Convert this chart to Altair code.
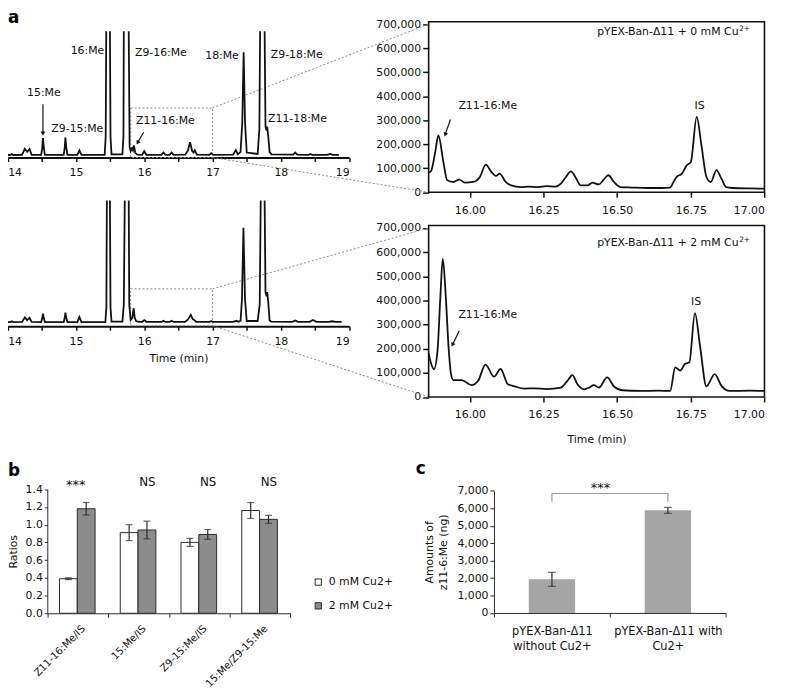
import altair as alt
import pandas as pd

W, H = 780, 682
FONT = "DejaVu Sans"
INK = "#111111"
AX = "#2b2b2b"
DOT = "#8a8a8a"
TOPK = 3000  # off-scale part of the tallest peaks (thousands) - drawn clipped at the panel top

# ---------------- panel a: overview chromatograms (min, intensity in thousands) ----------------
ov0_time = [14.00, 14.04, 14.06, 14.08, 14.21, 14.25, 14.285, 14.32, 14.35,
            14.49, 14.505, 14.516, 14.53, 14.545,
            14.82, 14.835, 14.845, 14.858, 14.875,
            15.02, 15.05, 15.08,
            15.42, 15.435, 15.443, 15.47, 15.497, 15.505, 15.52,
            15.68, 15.695, 15.70, 15.735, 15.772, 15.785, 15.80,
            15.82, 15.835, 15.848, 15.87, 15.90,
            15.97, 16.00, 16.03, 16.25, 16.28, 16.31, 16.37, 16.40, 16.43,
            16.60, 16.64, 16.67, 16.70, 16.72, 16.74, 16.77,
            16.95, 16.98, 17.01, 17.30, 17.34, 17.37,
            17.41, 17.435, 17.455, 17.475, 17.50,
            17.66, 17.685, 17.696, 17.73, 17.762, 17.775, 17.79, 17.80, 17.815, 17.835, 17.86,
            18.18, 18.21, 18.24, 18.40, 18.43, 18.46, 18.68, 18.72, 18.76, 18.85]
ov0_int_k = [35, 35, 48, 35, 38, 123, 80, 120, 38,
             36, 130, 273, 130, 36,
             36, 140, 283, 140, 36,
             36, 100, 36,
             36, 300, TOPK, None, TOPK, 300, 45,
             45, 300, TOPK, None, TOPK, 150, 90,
             130, 100, 170, 60, 40,
             38, 90, 38, 36, 70, 36, 36, 70, 36,
             40, 100, 217, 95, 70, 100, 40,
             36, 60, 36, 40, 105, 45,
             80, 500, 1487, 500, 70,
             50, 400, TOPK, None, TOPK, 437, 380, 437, 300, 80, 45,
             40, 70, 40, 36, 50, 36, 36, 50, 36, 36]

ov2_time = [14.00, 14.04, 14.06, 14.08, 14.21, 14.25, 14.285, 14.32, 14.35,
            14.49, 14.505, 14.516, 14.53, 14.545,
            14.82, 14.835, 14.845, 14.858, 14.875,
            15.02, 15.05, 15.08,
            15.43, 15.445, 15.452, 15.475, 15.497, 15.505, 15.52,
            15.68, 15.70, 15.714, 15.74, 15.772, 15.78, 15.80,
            15.825, 15.845, 15.86, 15.88, 15.92,
            15.97, 16.00, 16.03, 16.25, 16.28, 16.31, 16.37, 16.40, 16.43,
            16.60, 16.64, 16.68, 16.71, 16.73, 16.76,
            16.95, 16.98, 17.01, 17.30, 17.35, 17.38,
            17.41, 17.43, 17.452, 17.475, 17.50,
            17.66, 17.69, 17.705, 17.73, 17.762, 17.775, 17.79, 17.80, 17.815, 17.835, 17.86,
            18.17, 18.21, 18.25, 18.42, 18.47, 18.52, 18.70, 18.75, 18.80, 18.89]
ov2_int_k = [70, 70, 85, 70, 72, 156, 105, 150, 72,
             70, 140, 231, 140, 70,
             70, 150, 250, 150, 70,
             70, 169, 70,
             70, 350, TOPK, None, TOPK, 350, 80,
             80, 400, TOPK, None, TOPK, 400, 110,
             150, 332, 150, 90, 75,
             75, 107, 75, 72, 95, 72, 72, 95, 72,
             75, 120, 206, 125, 110, 75,
             72, 85, 72, 75, 94, 75,
             95, 500, 1858, 500, 90,
             90, 400, TOPK, None, TOPK, 638, 560, 638, 450, 100, 80,
             75, 100, 75, 75, 110, 75, 75, 85, 75, 75]

# zoomed region (15.86-17.00 min)
zm0_time = [15.86, 15.868, 15.882, 15.893, 15.91, 15.923, 15.944, 15.964, 15.983, 16.011,
            16.034, 16.054, 16.073, 16.088, 16.101, 16.12, 16.14, 16.174, 16.20, 16.23,
            16.26, 16.29, 16.309, 16.326, 16.343, 16.36, 16.376, 16.40, 16.416, 16.438,
            16.455, 16.47, 16.489, 16.511, 16.55, 16.60, 16.65, 16.68, 16.691, 16.702,
            16.72, 16.736, 16.75, 16.77, 16.786, 16.803, 16.818, 16.837, 16.854, 16.87,
            16.893, 16.95, 17.0]
zm0_int_k = [82, 88, 165, 237, 126, 50, 43, 53, 40, 43,
             64, 115, 85, 68, 78, 46, 29, 22, 24, 22,
             26, 24, 36, 64, 87, 60, 29, 29, 40, 33,
             54, 71, 43, 22, 20, 18, 18, 20, 43, 64,
             78, 112, 126, 314, 196, 64, 43, 92, 57, 22,
             18, 16, 15]
zm2_time = [15.86, 15.868, 15.878, 15.89, 15.90, 15.908, 15.918, 15.928, 15.936, 15.944,
            15.972, 16.006, 16.028, 16.053, 16.082, 16.104, 16.129, 16.152, 16.185, 16.22,
            16.26, 16.309, 16.331, 16.348, 16.365, 16.388, 16.405, 16.421, 16.438, 16.466,
            16.489, 16.517, 16.58, 16.64, 16.68, 16.697, 16.714, 16.73, 16.745, 16.764,
            16.781, 16.803, 16.831, 16.854, 16.882, 16.95, 17.0]
zm2_int_k = [181, 140, 115, 190, 420, 572, 420, 200, 95, 70,
             70, 49, 67, 134, 84, 116, 53, 44, 35, 36,
             33, 39, 67, 91, 53, 32, 39, 49, 39, 81,
             44, 28, 25, 26, 25, 123, 109, 137, 144, 347,
             214, 44, 95, 46, 25, 26, 25]

box_time = [15.8, 17.0]
box_int = [0, 700000]

ov_label_text = ["16:Me", "Z9-16:Me", "18:Me", "Z9-18:Me", "15:Me", "Z9-15:Me", "Z11-16:Me", "Z11-18:Me"]
ov_label_time = [15.168, 16.243, 17.138, 18.232, 14.529, 15.019, 16.309, 18.243]
ov_label_int_k = [1500, 1477, 1431, 1453, 907, 403, 521, 543]
ov_arrow_from = [(14.516, 753), (15.99, 357)]
ov_arrow_to = [(14.516, 347), (15.907, 217)]
ov_arrow_angle = [180, 210]

sample_names = ["pYEX-Ban-\u039411 + 0 mM Cu", "pYEX-Ban-\u039411 + 2 mM Cu"]
sample_sup = "2+"

# ---------------- panel b ----------------
b_cats = ["Z11-16:Me/IS", "15:Me/IS", "Z9-15:Me/IS", "15:Me/Z9-15:Me"]
b_groups = ["0 mM Cu2+", "2 mM Cu2+"]
b_mean_0 = [0.39, 0.91, 0.80, 1.16]
b_err_0 = [0.01, 0.09, 0.045, 0.09]
b_mean_2 = [1.18, 0.94, 0.89, 1.06]
b_err_2 = [0.07, 0.10, 0.055, 0.045]
b_sig = ["***", "NS", "NS", "NS"]

# ---------------- panel c ----------------
c_cats = ["pYEX-Ban-\u039411\nwithout Cu2+", "pYEX-Ban-\u039411 with\nCu2+"]
c_mean = [1930, 5880]
c_err = [400, 170]
c_bracket_low, c_bracket_high = 6376, 6846
c_star_y = 7317

# ---------------- layout (pixel ranges of each panel) ----------------
OV_DOM, OV_RNG = [14, 19], [-0.3, 344.7]
OV_TICKS = [14, 14.5, 15, 15.5, 16, 16.5, 17, 17.5, 18, 18.5, 19]
TL_DOM, TL_RNG = [0, 1785000], [147.5, 20]
BL_DOM, BL_RNG = [0, 2374000], [317.5, 191]
ZM_DOM, ZM_RNG = [15.86, 17.0], [425, 764.3]
ZM_XTICKS = [16.0, 16.25, 16.5, 16.75, 17.0]
ZM_YDOM = [0, 710000]
ZM_YTICKS = [0, 100000, 200000, 300000, 400000, 500000, 600000, 700000]
TR_RNG = [182.7, 10.3]
BR_RNG = [389.5, 216.3]


def lin(dom, rng):
    (d0, d1), (r0, r1) = dom, rng
    return lambda v: r0 + (v - d0) * (r1 - r0) / (d1 - d0)


def S(dom, rng, **kw):
    return alt.Scale(domain=dom, range=rng, nice=False, zero=False, **kw)


def txt(df, xs, ys, align, size, baseline="middle", dx=0, dy=0):
    return alt.Chart(df).mark_text(align=align, baseline=baseline, fontSize=size, dx=dx, dy=dy,
                                   color=INK).encode(
        x=alt.X("t:Q", scale=xs, axis=None), y=alt.Y("v:Q", scale=ys, axis=None), text="s:N")


def arrows(df, xs, ys):
    shaft = alt.Chart(df).mark_rule(color=INK, strokeWidth=1.2).encode(
        x=alt.X("t0:Q", scale=xs, axis=None), x2="t1",
        y=alt.Y("v0:Q", scale=ys, axis=None), y2="v1")
    head = alt.Chart(df).mark_point(shape="triangle", filled=True, size=22, color=INK, opacity=1).encode(
        x=alt.X("t1:Q", scale=xs, axis=None), y=alt.Y("v1:Q", scale=ys, axis=None),
        angle=alt.Angle("ang:Q", scale=None))
    return [shaft, head]


def ov_xs():
    return S(OV_DOM, OV_RNG)


def ov_panel(times, ints_k, ydom, yrng, axis_y, title, title_pad):
    trace = pd.DataFrame({"t": times, "v": [None if v is None else v * 1000 for v in ints_k]})
    box = pd.DataFrame({"t0": [box_time[0]], "t1": [box_time[1]], "v0": [box_int[0]], "v1": [box_int[1]]})
    axis = alt.Axis(orient="bottom", offset=axis_y - H, values=OV_TICKS, format=".0f",
                    labelExpr="datum.value % 1 === 0 ? datum.label : ''",
                    labelFlush=True, tickSize=4, tickWidth=1.5, tickColor=INK,
                    domainColor=INK, domainWidth=2, labelFontSize=11, labelPadding=5,
                    title=title, titleFontSize=11, titlePadding=title_pad, titleFontWeight="normal")
    rect = alt.Chart(box).mark_rect(fillOpacity=0, stroke=DOT, strokeWidth=1, strokeDash=[2, 2]).encode(
        x=alt.X("t0:Q", scale=ov_xs(), axis=None), x2="t1",
        y=alt.Y("v0:Q", scale=S(ydom, yrng, clamp=True), axis=None), y2="v1")
    line = alt.Chart(trace).mark_line(color=INK, strokeWidth=1.8, invalid="break-paths-show-domains").encode(
        x=alt.X("t:Q", scale=ov_xs(), axis=axis), y=alt.Y("v:Q", scale=S(ydom, yrng, clamp=True), axis=None))
    return [rect, line]


tl_lab = pd.DataFrame({"t": ov_label_time, "v": [v * 1000 for v in ov_label_int_k], "s": ov_label_text})
tl_arr = pd.DataFrame({"t0": [a[0] for a in ov_arrow_from], "v0": [a[1] * 1000 for a in ov_arrow_from],
                       "t1": [a[0] for a in ov_arrow_to], "v1": [a[1] * 1000 for a in ov_arrow_to],
                       "ang": ov_arrow_angle})
tl_layers = (ov_panel(ov0_time, ov0_int_k, TL_DOM, TL_RNG, 147.5, None, 4)
             + [txt(tl_lab, ov_xs(), S(TL_DOM, TL_RNG, clamp=True), "center", 11)]
             + arrows(tl_arr, ov_xs(), S(TL_DOM, TL_RNG, clamp=True)))
bl_layers = ov_panel(ov2_time, ov2_int_k, BL_DOM, BL_RNG, 318, "Time (min)", 7)


def zm_xs():
    return S(ZM_DOM, ZM_RNG)


def zm_panel(times, ints_k, yrng, name, sample_v_k, sup_v_k, is_pos, z11_pos, arrow, title):
    ys = S(ZM_YDOM, yrng)
    trace = pd.DataFrame({"t": times, "v": [v * 1000 for v in ints_k]})
    frame = pd.DataFrame({"t0": [ZM_DOM[0]], "t1": [ZM_DOM[1]], "v0": [ZM_YDOM[0]], "v1": [ZM_YDOM[1]]})
    xaxis = alt.Axis(orient="bottom", offset=yrng[0] - H, values=ZM_XTICKS, format=".2f", domain=False,
                     tickSize=5, tickWidth=1.5, tickColor=INK, labelPadding=7, labelFontSize=11,
                     title=title, titleFontSize=11, titlePadding=14, titleFontWeight="normal")
    yaxis = alt.Axis(orient="left", offset=-ZM_RNG[0], values=ZM_YTICKS, format=",.0f", domain=False,
                     tickSize=6, tickWidth=1.5, tickColor=INK, labelPadding=2, labelFontSize=11, title=None)
    fr = alt.Chart(frame).mark_rect(fillOpacity=0, stroke=INK, strokeWidth=1.6).encode(
        x=alt.X("t0:Q", scale=zm_xs(), axis=None), x2="t1",
        y=alt.Y("v0:Q", scale=ys, axis=None), y2="v1")
    line = alt.Chart(trace).mark_line(color=INK, strokeWidth=1.8, interpolate="monotone").encode(
        x=alt.X("t:Q", scale=zm_xs(), axis=xaxis), y=alt.Y("v:Q", scale=ys, axis=yaxis))
    name_df = pd.DataFrame({"t": [16.912], "v": [sample_v_k * 1000], "s": [name]})
    sup_df = pd.DataFrame({"t": [16.914], "v": [sup_v_k * 1000], "s": [sample_sup]})
    is_df = pd.DataFrame({"t": [is_pos[0]], "v": [is_pos[1] * 1000], "s": ["IS"]})
    z_df = pd.DataFrame({"t": [z11_pos[0]], "v": [z11_pos[1] * 1000], "s": ["Z11-16:Me"]})
    arr = pd.DataFrame({"t0": [arrow[0]], "v0": [arrow[1] * 1000], "t1": [arrow[2]],
                        "v1": [arrow[3] * 1000], "ang": [arrow[4]]})
    return [fr, line,
            txt(name_df, zm_xs(), ys, "right", 11, baseline="alphabetic"),
            txt(sup_df, zm_xs(), ys, "left", 7.5, baseline="alphabetic"),
            txt(is_df, zm_xs(), ys, "center", 11),
            txt(z_df, zm_xs(), ys, "left", 11)] + arrows(arr, zm_xs(), ys)


tr_layers = zm_panel(zm0_time, zm0_int_k, TR_RNG, sample_names[0], 654.6, 671, (16.78, 360), (15.961, 360),
                     (15.934, 303, 15.917, 243, 199), None)
br_layers = zm_panel(zm2_time, zm2_int_k, BR_RNG, sample_names[1], 625, 642, (16.768, 393), (15.961, 338),
                     (15.964, 274, 15.942, 219, 207), "Time (min)")

# dotted zoom connectors, end points taken through the panels' own scales
ov_x, zm_x = lin(OV_DOM, OV_RNG), lin(ZM_DOM, ZM_RNG)
tl_y, bl_y = lin(TL_DOM, TL_RNG), lin(BL_DOM, BL_RNG)
tr_y, br_y = lin(ZM_YDOM, TR_RNG), lin(ZM_YDOM, BR_RNG)
conn_df = pd.DataFrame({
    "x0": [ov_x(box_time[1])] * 4,
    "y0": [tl_y(box_int[1]), tl_y(box_int[0]), bl_y(box_int[1]), bl_y(box_int[0])],
    "x1": [zm_x(ZM_DOM[0])] * 4,
    "y1": [tr_y(box_int[1]), tr_y(box_int[0]), br_y(box_int[1]), br_y(box_int[0])],
})
conn = alt.Chart(conn_df).mark_rule(color=DOT, strokeWidth=1, strokeDash=[2, 2]).encode(
    x=alt.X("x0:Q", scale=S([0, W], [0, W]), axis=None), x2="x1",
    y=alt.Y("y0:Q", scale=S([0, H], [0, H]), axis=None), y2="y1")

# ---------------- panel b chart ----------------
rows = []
for i, c in enumerate(b_cats):
    for g, m, e in ((b_groups[0], b_mean_0[i], b_err_0[i]), (b_groups[1], b_mean_2[i], b_err_2[i])):
        rows.append({"cat": c, "grp": g, "m": m, "lo": m - e, "hi": m + e})
b_df = pd.DataFrame(rows)
sig_df = pd.DataFrame({"cat": b_cats, "s": b_sig})


def bx():
    return alt.Scale(domain=b_cats, range=[39.7, 285.3], paddingInner=0, paddingOuter=0)


def bxo():
    return alt.Scale(domain=b_groups, range=[12.3, 48.3], paddingInner=0, paddingOuter=0)


def by():
    return S([0, 1.4], [608, 482.7])


b_xaxis = alt.Axis(orient="bottom", offset=608 - H, title=None, labelAngle=-45, labelAlign="right",
                   labelBaseline="top", labelOffset=2, labelPadding=6, tickBand="extent", tickSize=4,
                   domainColor=AX, tickColor=AX, labelFontSize=10.2)
b_yaxis = alt.Axis(orient="left", offset=-39.7, values=[0, 0.2, 0.4, 0.6, 0.8, 1.0, 1.2, 1.4], format=".1f",
                   title="Ratios", titlePadding=7, titleFontSize=11, titleFontWeight="normal",
                   tickSize=3, domainColor=AX, tickColor=AX, labelFontSize=11, labelPadding=2)
b_legend = alt.Legend(title=None, orient="none", legendX=308, legendY=571, symbolType="square",
                      symbolSize=40, symbolStrokeColor=AX, symbolStrokeWidth=1, labelFontSize=11,
                      labelColor=INK, rowPadding=12, labelOffset=5, padding=0)
bars_b = alt.Chart(b_df).mark_bar(stroke=AX, strokeWidth=1).encode(
    x=alt.X("cat:N", scale=bx(), axis=b_xaxis),
    xOffset=alt.XOffset("grp:N", scale=bxo()),
    y=alt.Y("m:Q", scale=by(), axis=b_yaxis),
    fill=alt.Fill("grp:N", scale=alt.Scale(domain=b_groups, range=["#ffffff", "#8c8c8c"]), legend=b_legend))
err_b = alt.Chart(b_df).mark_rule(color=AX, strokeWidth=1.2).encode(
    x=alt.X("cat:N", scale=bx(), axis=None), xOffset=alt.XOffset("grp:N", scale=bxo()),
    y=alt.Y("lo:Q", scale=by(), axis=None), y2="hi")
cap_lo = alt.Chart(b_df).mark_tick(color=AX, thickness=1.2, size=7).encode(
    x=alt.X("cat:N", scale=bx(), axis=None), xOffset=alt.XOffset("grp:N", scale=bxo()),
    y=alt.Y("lo:Q", scale=by(), axis=None))
cap_hi = alt.Chart(b_df).mark_tick(color=AX, thickness=1.2, size=7).encode(
    x=alt.X("cat:N", scale=bx(), axis=None), xOffset=alt.XOffset("grp:N", scale=bxo()),
    y=alt.Y("hi:Q", scale=by(), axis=None))
sig_star = alt.Chart(sig_df).transform_filter("datum.s === '***'").mark_text(
    fontSize=13, dx=-2, dy=3, color=INK).encode(
    x=alt.X("cat:N", scale=bx(), axis=None), y=alt.YDatum(1.48, scale=by(), axis=None), text="s:N")
sig_ns = alt.Chart(sig_df).transform_filter("datum.s !== '***'").mark_text(
    fontSize=12, dx=9, color=INK).encode(
    x=alt.X("cat:N", scale=bx(), axis=None), y=alt.YDatum(1.48, scale=by(), axis=None), text="s:N")
b_layers = [bars_b, err_b, cap_lo, cap_hi, sig_star, sig_ns]

# ---------------- panel c chart ----------------
c_df = pd.DataFrame({"cat": c_cats, "m": c_mean,
                     "lo": [m - e for m, e in zip(c_mean, c_err)], "hi": [m + e for m, e in zip(c_mean, c_err)]})
br_df = pd.DataFrame({"cat": [c_cats[0], c_cats[0], c_cats[1], c_cats[1]],
                      "v": [c_bracket_low, c_bracket_high, c_bracket_high, c_bracket_low], "o": [0, 1, 2, 3]})
star_df = pd.DataFrame({"cat": [c_cats[0]], "s": ["***"]})


def cx():
    return alt.Scale(domain=c_cats, range=[491, 725.3], paddingInner=0, paddingOuter=0)


def cy():
    return S([0, 7000], [607.7, 484.3])


c_xaxis = alt.Axis(orient="bottom", offset=607.7 - H, title=None, labelAngle=0,
                   labelExpr="split(datum.label, '\\n')", labelLineHeight=15, labelPadding=9,
                   tickBand="extent", tickSize=4, domainColor=AX, tickColor=AX, labelFontSize=11.5)
c_yaxis = alt.Axis(orient="left", offset=-491, values=[0, 1000, 2000, 3000, 4000, 5000, 6000, 7000],
                   format=",.0f", title=["Amounts of", "z11-6:Me (ng)"], titlePadding=8, titleLineHeight=15,
                   titleFontSize=11, titleFontWeight="normal", tickSize=4, domainColor=AX, tickColor=AX,
                   labelFontSize=11, labelPadding=2)
bars_c = alt.Chart(c_df).mark_bar(color="#a5a5a5", width=alt.RelativeBandSize(0.4)).encode(
    x=alt.X("cat:N", scale=cx(), axis=c_xaxis), y=alt.Y("m:Q", scale=cy(), axis=c_yaxis))
err_c = alt.Chart(c_df).mark_rule(color=AX, strokeWidth=1.2).encode(
    x=alt.X("cat:N", scale=cx(), axis=None), y=alt.Y("lo:Q", scale=cy(), axis=None), y2="hi")
cap_c_lo = alt.Chart(c_df).mark_tick(color=AX, thickness=1.2, size=8).encode(
    x=alt.X("cat:N", scale=cx(), axis=None), y=alt.Y("lo:Q", scale=cy(), axis=None))
cap_c_hi = alt.Chart(c_df).mark_tick(color=AX, thickness=1.2, size=8).encode(
    x=alt.X("cat:N", scale=cx(), axis=None), y=alt.Y("hi:Q", scale=cy(), axis=None))
bracket = alt.Chart(br_df).mark_line(color="#999999", strokeWidth=1.2).encode(
    x=alt.X("cat:N", scale=cx(), axis=None), y=alt.Y("v:Q", scale=cy(), axis=None), order="o:Q")
star_c = alt.Chart(star_df).mark_text(fontSize=13, dx=49, dy=3, color=INK).encode(
    x=alt.X("cat:N", scale=cx(), axis=None), y=alt.YDatum(c_star_y, scale=cy(), axis=None), text="s:N")
c_layers = [bars_c, err_c, cap_c_lo, cap_c_hi, bracket, star_c]


def letter(s, x, y):
    return alt.Chart(pd.DataFrame({"s": [s]})).mark_text(
        align="left", baseline="alphabetic", fontSize=17, fontWeight="bold", color="#000000").encode(
        text="s:N", x=alt.value(x), y=alt.value(y))


all_layers = ([conn] + tl_layers + bl_layers + tr_layers + br_layers + b_layers + c_layers
              + [letter("a", 0, 12), letter("b", 0, 469), letter("c", 412, 467)])

chart = alt.layer(*all_layers).resolve_scale(
    x="independent", y="independent", xOffset="independent", fill="independent"
).resolve_axis(
    x="independent", y="independent"
).properties(
    width=W, height=H, padding=0, autosize=alt.AutoSizeParams(type="none")
).configure(
    font=FONT
).configure_axis(
    grid=False, labelColor=INK, titleColor=INK, labelFont=FONT, titleFont=FONT
).configure_legend(
    labelFont=FONT
).configure_view(
    stroke=None
)

chart.save("out.html", embed_options={"renderer": "svg", "actions": False})
